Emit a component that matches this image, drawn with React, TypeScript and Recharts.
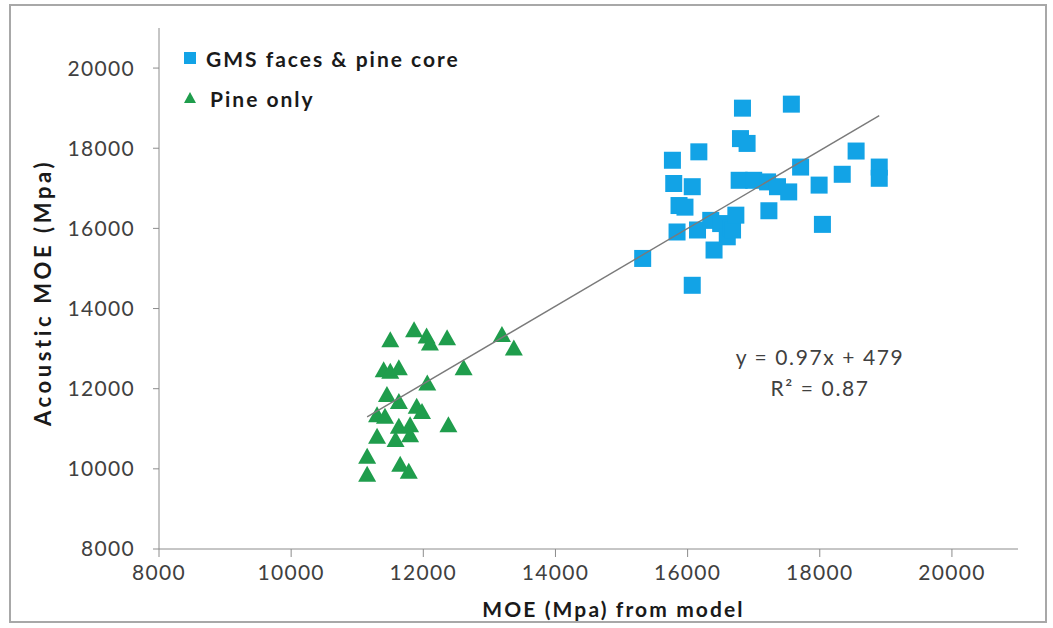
import { Label, Legend, Scatter, ScatterChart, XAxis, YAxis } from 'recharts'

// values
const gmsPoints = [
  { x: 15320, y: 15250 }, { x: 15770, y: 17700 }, { x: 15790, y: 17120 }, { x: 15840, y: 15910 },
  { x: 15870, y: 16570 }, { x: 15960, y: 16530 }, { x: 16070, y: 17040 }, { x: 16170, y: 17910 },
  { x: 16150, y: 15960 }, { x: 16070, y: 14580 }, { x: 16350, y: 16200 }, { x: 16500, y: 16120 },
  { x: 16400, y: 15460 }, { x: 16600, y: 15790 }, { x: 16650, y: 16000 }, { x: 16680, y: 15960 },
  { x: 16730, y: 16330 }, { x: 16780, y: 17200 }, { x: 16800, y: 18240 }, { x: 16900, y: 18120 },
  { x: 16830, y: 19000 }, { x: 17000, y: 17200 }, { x: 17210, y: 17160 }, { x: 17360, y: 17040 },
  { x: 17230, y: 16440 }, { x: 17530, y: 16910 }, { x: 17570, y: 19100 }, { x: 17710, y: 17530 },
  { x: 17990, y: 17080 }, { x: 18040, y: 16100 }, { x: 18340, y: 17350 }, { x: 18550, y: 17930 },
  { x: 18900, y: 17530 }, { x: 18900, y: 17250 },
]

const pinePoints = [
  { x: 11500, y: 13210 }, { x: 11860, y: 13460 }, { x: 12050, y: 13300 }, { x: 12100, y: 13130 },
  { x: 12360, y: 13260 }, { x: 13190, y: 13340 }, { x: 13370, y: 13000 }, { x: 11400, y: 12460 },
  { x: 11500, y: 12420 }, { x: 11630, y: 12510 }, { x: 12610, y: 12510 }, { x: 12060, y: 12130 },
  { x: 11450, y: 11840 }, { x: 11630, y: 11670 }, { x: 11900, y: 11550 }, { x: 11300, y: 11340 },
  { x: 11420, y: 11300 }, { x: 11980, y: 11420 }, { x: 11630, y: 11050 }, { x: 11800, y: 11090 },
  { x: 12380, y: 11090 }, { x: 11300, y: 10800 }, { x: 11580, y: 10720 }, { x: 11800, y: 10840 },
  { x: 11150, y: 10300 }, { x: 11650, y: 10100 }, { x: 11150, y: 9850 }, { x: 11780, y: 9930 },
]

const axisTicks = [8000, 10000, 12000, 14000, 16000, 18000, 20000]
const trendSlope = 0.97
const trendIntercept = 479

const allX = [...gmsPoints, ...pinePoints].map((p) => p.x)
const trendPoints = [Math.min(...allX), Math.max(...allX)].map((x) => ({
  x,
  y: trendSlope * x + trendIntercept,
}))

const BLUE = '#12a3e6'
const GREEN = '#1f9d4c'
const FONT = 'Lato, "Open Sans", sans-serif'

const SquareMark = (props: any) => (
  <rect x={props.cx - 8.5} y={props.cy - 8.5} width={17} height={17} fill={BLUE} />
)

const TriangleMark = (props: any) => (
  <path
    d={`M${props.cx},${props.cy - 9} L${props.cx + 9},${props.cy + 7} L${props.cx - 9},${props.cy + 7} Z`}
    fill={GREEN}
  />
)

const NoMark = () => <g />

const LegendBox = () => (
  <div style={{ fontFamily: FONT, fontWeight: 700, fontSize: 21, color: '#1a1a1a', letterSpacing: 2 }}>
    <div style={{ display: 'flex', alignItems: 'center', height: 40 }}>
      <svg width={24} height={20}>
        <rect x={7} y={4} width={12} height={12} fill={BLUE} />
      </svg>
      <span style={{ marginLeft: 5 }}>GMS faces &amp; pine core</span>
    </div>
    <div style={{ display: 'flex', alignItems: 'center', height: 40 }}>
      <svg width={24} height={20}>
        <path d="M13,4 L19,15 L7,15 Z" fill={GREEN} />
      </svg>
      <span style={{ marginLeft: 9 }}>Pine only</span>
    </div>
  </div>
)

const tickStyle = { fill: '#404040', fontSize: 21, fontFamily: FONT, letterSpacing: 1.3 }

export default function App() {
  return (
    <div style={{ position: 'relative', width: 1053, height: 628, background: '#fff' }}>
      <style>{'body{margin:0}'}</style>
      <div
        style={{
          position: 'absolute',
          left: 9,
          top: 4,
          width: 1034,
          height: 615,
          border: '2px solid #a8a8a8',
        }}
      />
      <ScatterChart width={1053} height={628} margin={{ top: 28, right: 35, bottom: 9, left: 0 }}>
        <XAxis
          type="number"
          dataKey="x"
          domain={[8000, 21000]}
          ticks={axisTicks}
          allowDataOverflow
          height={70}
          stroke="#8c8c8c"
          tickSize={8}
          tickMargin={8}
          tick={tickStyle}
        >
          <Label
            value="MOE (Mpa) from model"
            position="insideBottom"
            offset={2}
            dx={25}
            style={{ fill: '#1a1a1a', fontSize: 21, fontWeight: 700, fontFamily: FONT, letterSpacing: 2.1 }}
          />
        </XAxis>
        <YAxis
          type="number"
          dataKey="y"
          domain={[8000, 21000]}
          ticks={axisTicks}
          allowDataOverflow
          width={159}
          stroke="#8c8c8c"
          tickSize={6}
          tickMargin={18}
          tick={tickStyle}
        >
          <Label
            value="Acoustic MOE (Mpa)"
            angle={-90}
            position="insideLeft"
            offset={43}
            dy={4}
            style={{
              fill: '#1a1a1a',
              fontSize: 22,
              fontWeight: 700,
              fontFamily: FONT,
              letterSpacing: 3.6,
              textAnchor: 'middle',
            }}
          />
        </YAxis>
        <Legend
          layout="vertical"
          align="center"
          verticalAlign="middle"
          wrapperStyle={{ left: 177, top: 38 }}
          content={<LegendBox />}
        />
        <Scatter name="GMS faces & pine core" data={gmsPoints} fill={BLUE} shape={SquareMark} isAnimationActive={false} />
        <Scatter name="Pine only" data={pinePoints} fill={GREEN} shape={TriangleMark} isAnimationActive={false} />
        <Scatter
          name="trend"
          data={trendPoints}
          line={{ stroke: '#7a7a7a', strokeWidth: 1.4 }}
          shape={NoMark}
          legendType="none"
          isAnimationActive={false}
        />
      </ScatterChart>
      <div
        style={{
          position: 'absolute',
          left: 710,
          top: 341,
          width: 220,
          textAlign: 'center',
          fontFamily: FONT,
          fontSize: 21,
          lineHeight: '31px',
          color: '#404040',
          letterSpacing: 1.6,
        }}
      >
        <div>y = 0.97x + 479</div>
        <div>R² = 0.87</div>
      </div>
    </div>
  )
}
